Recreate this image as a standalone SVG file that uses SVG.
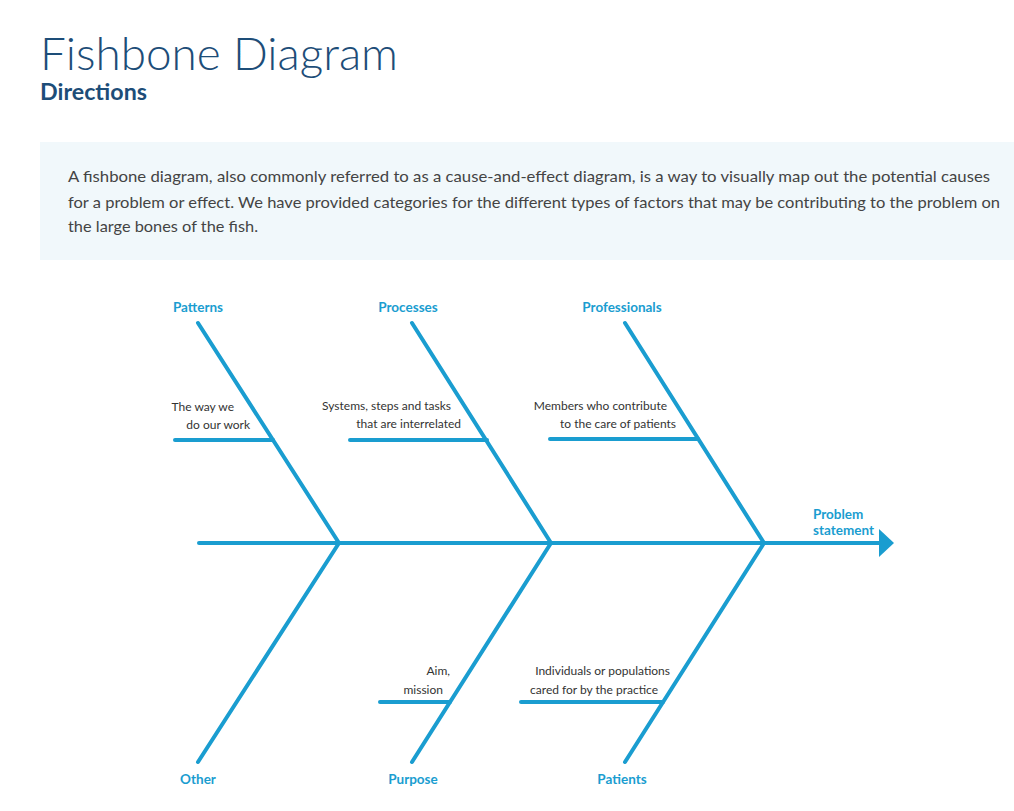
<svg xmlns="http://www.w3.org/2000/svg" width="1014" height="811" viewBox="0 0 1014 811">
<style>
.bone{stroke:#1a9dd0;stroke-width:4;stroke-linecap:round;fill:none}
.cat{font-family:Lato,"Liberation Sans",sans-serif;font-weight:bold;font-size:13.5px;fill:#1a9dd0;text-anchor:middle}
.sub{font-family:Lato,"Liberation Sans",sans-serif;font-size:12px;fill:#333;text-anchor:end}
.body{font-family:Lato,"Liberation Sans",sans-serif;font-size:15px;fill:#444}
</style>
<rect width="1014" height="811" fill="#fff"/>
<g id="header">
<text x="40" y="70" font-family="Lato,'Liberation Sans',sans-serif" font-weight="300" font-size="46" fill="#1d4d78" textLength="358" lengthAdjust="spacingAndGlyphs">Fishbone Diagram</text>
<text x="40" y="100" font-family="Lato,'Liberation Sans',sans-serif" font-weight="bold" font-size="22" fill="#1d4d78" textLength="107" lengthAdjust="spacingAndGlyphs">Directions</text>
</g>
<g id="intro">
<rect x="40" y="142" width="974" height="118" fill="#f1f8fb"/>
<text class="body" x="68" y="182" textLength="922" lengthAdjust="spacingAndGlyphs">A fishbone diagram, also commonly referred to as a cause-and-effect diagram, is a way to visually map out the potential causes</text>
<text class="body" x="68" y="208" textLength="932" lengthAdjust="spacingAndGlyphs">for a problem or effect. We have provided categories for the different types of factors that may be contributing to the problem on</text>
<text class="body" x="68" y="232" textLength="190" lengthAdjust="spacingAndGlyphs">the large bones of the fish.</text>
</g>
<g id="connectors">
<line class="bone" x1="199" y1="543" x2="880" y2="543"/>
<polygon points="879,529 894,543 879,557" fill="#1a9dd0"/>
<line class="bone" x1="198" y1="323" x2="339" y2="543"/>
<line class="bone" x1="412" y1="323" x2="551" y2="543"/>
<line class="bone" x1="625" y1="323" x2="764" y2="543"/>
<line class="bone" x1="198" y1="762" x2="339" y2="543"/>
<line class="bone" x1="412" y1="762" x2="551" y2="543"/>
<line class="bone" x1="625" y1="762" x2="764" y2="543"/>
<line class="bone" x1="175" y1="440" x2="273" y2="440"/>
<line class="bone" x1="350" y1="440" x2="487" y2="440"/>
<line class="bone" x1="550" y1="439" x2="698" y2="439"/>
<line class="bone" x1="380" y1="702" x2="450" y2="702"/>
<line class="bone" x1="521" y1="702" x2="663" y2="702"/>
</g>
<g id="patterns">
<text class="cat" x="198" y="312">Patterns</text>
<text class="sub" x="234" y="411">The way we</text>
<text class="sub" x="250" y="429">do our work</text>
</g>
<g id="processes">
<text class="cat" x="408" y="312">Processes</text>
<text class="sub" x="451" y="410">Systems, steps and tasks</text>
<text class="sub" x="461" y="428">that are interrelated</text>
</g>
<g id="professionals">
<text class="cat" x="622" y="312">Professionals</text>
<text class="sub" x="667" y="410">Members who contribute</text>
<text class="sub" x="676" y="428">to the care of patients</text>
</g>
<g id="problem">
<text class="cat" x="813" y="519" style="text-anchor:start">Problem</text>
<text class="cat" x="813" y="535" style="text-anchor:start">statement</text>
</g>
<g id="other">
<text class="cat" x="198" y="784">Other</text>
</g>
<g id="purpose">
<text class="cat" x="413" y="784">Purpose</text>
<text class="sub" x="450" y="675">Aim,</text>
<text class="sub" x="443" y="694">mission</text>
</g>
<g id="patients">
<text class="cat" x="622" y="784">Patients</text>
<text class="sub" x="670" y="675">Individuals or populations</text>
<text class="sub" x="658" y="694">cared for by the practice</text>
</g>
</svg>
